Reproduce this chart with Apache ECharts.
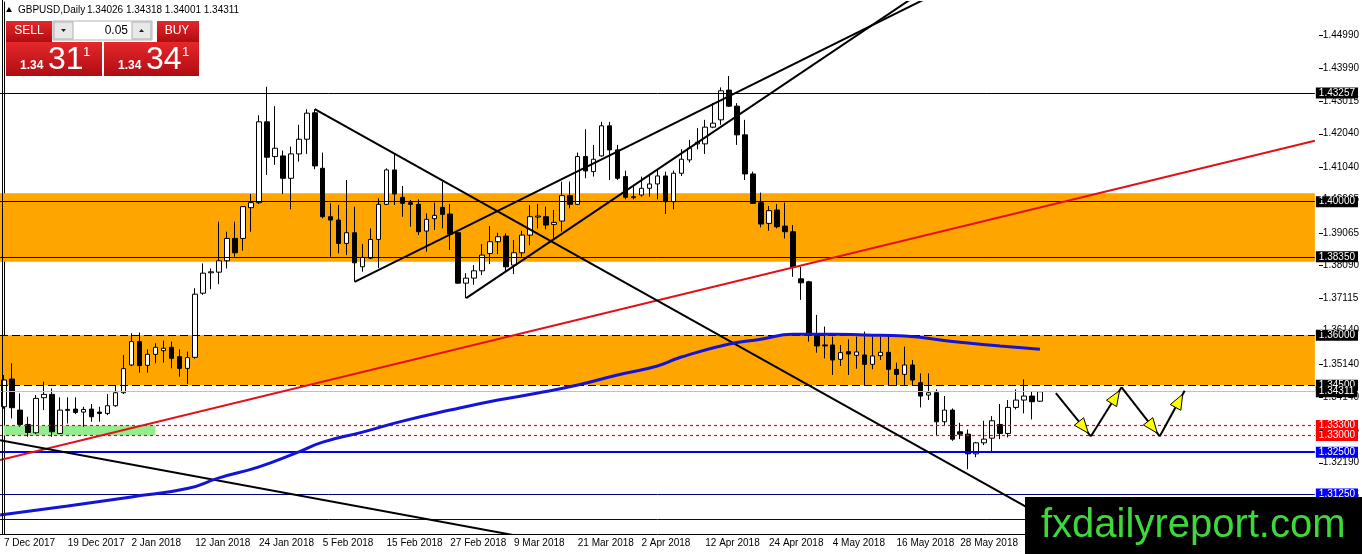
<!DOCTYPE html>
<html>
<head>
<meta charset="utf-8">
<script src="https://cdn.jsdelivr.net/npm/echarts@6/dist/echarts.min.js"></script>
<style>
html, body { margin: 0; padding: 0; background: #fff; }
#chart { width: 1362px; height: 554px; }
</style>
</head>
<body>
<div id="chart"></div>
<script>
// GBPUSD daily, one value per bar (7 Dec 2017 .. 11 Jun 2018)
var openArr = [
    1.3386, 1.3469, 1.3376, 1.3333, 1.3308, 1.3413, 1.3423, 1.3306, 1.3375, 1.3379,
    1.3370, 1.3379, 1.3370, 1.3366, 1.3389, 1.3428, 1.3511, 1.3581, 1.3510, 1.3543,
    1.3554, 1.3564, 1.3536, 1.3501, 1.3534, 1.3726, 1.3787, 1.3789, 1.3823, 1.3890,
    1.3890, 1.3982, 1.3997, 1.4239, 1.4135, 1.4137, 1.4070, 1.4143, 1.4187, 1.4266,
    1.4100, 1.3955, 1.3945, 1.3875, 1.3907, 1.3805, 1.3831, 1.3887, 1.3992, 1.4095,
    1.4013, 1.3997, 1.3992, 1.3912, 1.3949, 1.3983, 1.3963, 1.3907, 1.3756, 1.3771,
    1.3793, 1.3845, 1.3880, 1.3897, 1.3810, 1.3847, 1.3900, 1.3954, 1.3955, 1.3932,
    1.3942, 1.4018, 1.3992, 1.4135, 1.4090, 1.4137, 1.4227, 1.4155, 1.4075, 1.4012,
    1.4020, 1.4040, 1.4053, 1.4077, 1.4000, 1.4085, 1.4125, 1.4173, 1.4173, 1.4223,
    1.4245, 1.4334, 1.4286, 1.4200, 1.4083, 1.3997, 1.3935, 1.3975, 1.3927, 1.3910,
    1.3769, 1.3760, 1.3601, 1.3571, 1.3571, 1.3528, 1.3551, 1.3540, 1.3541, 1.3513,
    1.3539, 1.3549, 1.3498, 1.3483, 1.3511, 1.3458, 1.3421, 1.3428, 1.3341, 1.3376,
    1.3311, 1.3304, 1.3245, 1.3278, 1.3292, 1.3333, 1.3306, 1.3384, 1.3406, 1.3418,
    1.34026
];
var closeArr = [
    1.3466, 1.3383, 1.3333, 1.3309, 1.3411, 1.3423, 1.3311, 1.3376, 1.3378, 1.3369,
    1.3378, 1.3356, 1.3366, 1.3389, 1.3428, 1.3500, 1.3581, 1.3509, 1.3543, 1.3564,
    1.3561, 1.3531, 1.3501, 1.3533, 1.3723, 1.3786, 1.3790, 1.3823, 1.3890, 1.3847,
    1.3985, 1.3997, 1.4239, 1.4133, 1.4160, 1.4070, 1.4143, 1.4187, 1.4265, 1.4107,
    1.3955, 1.3945, 1.3875, 1.3907, 1.3817, 1.3833, 1.3887, 1.3992, 1.4095, 1.4023,
    1.3995, 1.3992, 1.3910, 1.3947, 1.3959, 1.3962, 1.3903, 1.3756, 1.3771, 1.3793,
    1.3840, 1.3880, 1.3895, 1.3805, 1.3847, 1.3900, 1.3955, 1.3957, 1.3930, 1.3938,
    1.4018, 1.3992, 1.4135, 1.4092, 1.4127, 1.4227, 1.4155, 1.4070, 1.4013, 1.4015,
    1.4040, 1.4053, 1.4077, 1.4000, 1.4085, 1.4127, 1.4160, 1.4178, 1.4223, 1.4235,
    1.4332, 1.4286, 1.4200, 1.4083, 1.3995, 1.3933, 1.3973, 1.3925, 1.3910, 1.3804,
    1.3757, 1.3606, 1.3568, 1.3568, 1.3526, 1.3548, 1.3544, 1.3550, 1.3513, 1.3538,
    1.3549, 1.3498, 1.3483, 1.3511, 1.3466, 1.3418, 1.3428, 1.3341, 1.3376, 1.3289,
    1.3304, 1.3245, 1.3278, 1.3289, 1.3344, 1.3306, 1.3384, 1.3406, 1.3418, 1.3401,
    1.34311
];
var lowArr = [
    1.3380, 1.3351, 1.3326, 1.3296, 1.3304, 1.3376, 1.3296, 1.3304, 1.3336, 1.3364,
    1.3326, 1.3341, 1.3341, 1.3361, 1.3386, 1.3424, 1.3508, 1.3488, 1.3488, 1.3516,
    1.3518, 1.3501, 1.3476, 1.3454, 1.3530, 1.3721, 1.3738, 1.3753, 1.3800, 1.3835,
    1.3853, 1.3910, 1.3993, 1.4080, 1.4110, 1.4023, 1.3977, 1.4120, 1.4143, 1.4097,
    1.3950, 1.3835, 1.3845, 1.3840, 1.3760, 1.3790, 1.3828, 1.3801, 1.3990, 1.3990,
    1.3955, 1.3925, 1.3900, 1.3850, 1.3915, 1.3920, 1.3855, 1.3754, 1.3711, 1.3751,
    1.3780, 1.3813, 1.3843, 1.3790, 1.3783, 1.3835, 1.3870, 1.3920, 1.3917, 1.3885,
    1.3910, 1.3980, 1.3990, 1.4070, 1.4075, 1.4135, 1.4065, 1.4065, 1.4007, 1.4007,
    1.4015, 1.4015, 1.4007, 1.3963, 1.3977, 1.4077, 1.4117, 1.4157, 1.4143, 1.4220,
    1.4230, 1.4284, 1.4170, 1.4065, 1.3993, 1.3923, 1.3913, 1.3920, 1.3890, 1.3775,
    1.3706, 1.3581, 1.3548, 1.3531, 1.3481, 1.3508, 1.3481, 1.3500, 1.3448, 1.3498,
    1.3526, 1.3448, 1.3448, 1.3448, 1.3448, 1.3384, 1.3406, 1.3298, 1.3331, 1.3284,
    1.3289, 1.3199, 1.3235, 1.3271, 1.3248, 1.3289, 1.3294, 1.3378, 1.3366, 1.3348,
    1.34001
];
var highArr = [
    1.3481, 1.3516, 1.3426, 1.3356, 1.3421, 1.3461, 1.3441, 1.3414, 1.3414, 1.3414,
    1.3386, 1.3394, 1.3386, 1.3424, 1.3451, 1.3541, 1.3606, 1.3608, 1.3558, 1.3576,
    1.3584, 1.3581, 1.3558, 1.3551, 1.3741, 1.3815, 1.3800, 1.3940, 1.3910, 1.3940,
    1.3987, 1.4023, 1.4259, 1.4344, 1.4286, 1.4153, 1.4165, 1.4230, 1.4277, 1.4277,
    1.4147, 1.3995, 1.3990, 1.4065, 1.3985, 1.3873, 1.3920, 1.4010, 1.4100, 1.4145,
    1.4047, 1.4005, 1.4007, 1.3965, 1.3997, 1.4060, 1.3993, 1.3907, 1.3786, 1.3810,
    1.3873, 1.3927, 1.3907, 1.3905, 1.3885, 1.3913, 1.3990, 1.3993, 1.3985, 1.3975,
    1.4060, 1.4060, 1.4147, 1.4217, 1.4170, 1.4239, 1.4239, 1.4170, 1.4093, 1.4047,
    1.4075, 1.4080, 1.4095, 1.4090, 1.4093, 1.4157, 1.4185, 1.4220, 1.4245, 1.4295,
    1.4342, 1.4376, 1.4295, 1.4245, 1.4090, 1.4027, 1.3987, 1.3993, 1.3997, 1.3930,
    1.3805, 1.3763, 1.3661, 1.3626, 1.3596, 1.3571, 1.3588, 1.3596, 1.3611, 1.3596,
    1.3596, 1.3596, 1.3518, 1.3566, 1.3526, 1.3486, 1.3486, 1.3438, 1.3418, 1.3381,
    1.3338, 1.3318, 1.3281, 1.3344, 1.3358, 1.3394, 1.3406, 1.3438, 1.3468, 1.3431,
    1.34318
];

// x axis labels, one every 8 bars
var dateLabels = ['7 Dec 2017', '19 Dec 2017', '2 Jan 2018', '12 Jan 2018', '24 Jan 2018',
    '5 Feb 2018', '15 Feb 2018', '27 Feb 2018', '9 Mar 2018', '21 Mar 2018', '2 Apr 2018',
    '12 Apr 2018', '24 Apr 2018', '4 May 2018', '16 May 2018', '28 May 2018'];
var priceTicks = [1.44990, 1.43990, 1.43015, 1.42040, 1.41040, 1.40065, 1.39065, 1.38090,
    1.37115, 1.36140, 1.35140, 1.34140, 1.33165, 1.32190, 1.31215];

// moving average, read at points along the curve [bar, price]
var maPoints = [[-0.5, 1.3062], [8, 1.3089], [16, 1.3116], [23, 1.3141], [27, 1.3173], [32, 1.3206],
    [37, 1.3251], [40, 1.3280], [45, 1.3310], [50, 1.3343], [56, 1.3376], [62, 1.3406],
    [67, 1.3427], [72, 1.3451], [77, 1.3481], [82, 1.3508], [85, 1.3535], [91, 1.3574],
    [95, 1.3588], [99, 1.3603], [104, 1.3603], [108, 1.3601], [113, 1.3598], [119, 1.3581],
    [125, 1.3568], [130, 1.3558]];

// drawn objects [bar, price]
var redTrend = [[-0.5, 1.32262], [164.5, 1.41825]];
var blackTrends = [
    [[-0.5, 1.32855], [70, 1.2975]],
    [[39, 1.4277], [140, 1.2930]],
    [[44, 1.3760], [120, 1.4659]],
    [[58, 1.3711], [120, 1.4706]]
];
var zigzag = [[132.0, 1.34271], [136.4, 1.32975], [140.25, 1.34442], [145.04, 1.32975], [148.16, 1.34340]];

var orangeZones = [[1.4025, 1.3820], [1.3600, 1.3450]];
var greenZone = [[0, 1.3330], [19, 1.3300]];

var blackLevels = [1.43257, 1.40000, 1.38350];
var dashedLevels = [1.36000, 1.34500];
var bidLevel = [1.34311];
var redLevels = [1.33300, 1.33000];
var blueLevels = [1.32500];
var navyLevels = [1.31250, 1.30500];

var header = ['GBPUSD,Daily', '1.34026 1.34318 1.34001 1.34311'];

var nBars = 165;
var font = 'Liberation Sans';

var categories = [];
for (var i = 0; i < nBars; i++) {
    categories.push(String(i));
}

var candleData = [];
for (var i = 0; i < openArr.length; i++) {
    candleData.push([openArr[i], closeArr[i], lowArr[i], highArr[i]]);
}

var segments = [];
for (var i = 0; i < zigzag.length - 1; i++) {
    segments.push([zigzag[i][0], zigzag[i][1], zigzag[i + 1][0], zigzag[i + 1][1]]);
}

function levelSeries(values, lineStyle, boxColor) {
    return {
        type: 'line',
        xAxisIndex: 1,
        data: [],
        silent: true,
        z: 3,
        markLine: {
            silent: true,
            symbol: 'none',
            precision: 5,
            animation: false,
            lineStyle: lineStyle,
            label: {
                show: true,
                position: 'end',
                distance: 1,
                formatter: '{b}',
                backgroundColor: boxColor,
                color: '#fff',
                fontFamily: font,
                fontSize: 10,
                padding: [1, 3, 0, 3]
            },
            data: values.map(function(v) { return { yAxis: v, name: v.toFixed(5) }; })
        }
    };
}

function trendSeries(points, color, width) {
    return {
        type: 'line',
        xAxisIndex: 1,
        data: points,
        symbol: 'none',
        silent: true,
        clip: true,
        z: 5,
        lineStyle: { color: color, width: width }
    };
}

function renderArrow(params, api) {
    var p1 = api.coord([api.value(0), api.value(1)]);
    var p2 = api.coord([api.value(2), api.value(3)]);
    var dx = p2[0] - p1[0], dy = p2[1] - p1[1];
    var len = Math.sqrt(dx * dx + dy * dy);
    var ux = dx / len, uy = dy / len;
    var tip = [p2[0] - ux * 4, p2[1] - uy * 4];
    var base = [tip[0] - ux * 15, tip[1] - uy * 15];
    var nx = -uy * 6, ny = ux * 6;
    return {
        type: 'group',
        children: [
            { type: 'line', shape: { x1: p1[0], y1: p1[1], x2: p2[0], y2: p2[1] },
              style: { stroke: '#000', lineWidth: 2 } },
            { type: 'polygon', shape: { points: [tip, [base[0] + nx, base[1] + ny], [base[0] - nx, base[1] - ny]] },
              style: { fill: '#ffff00', stroke: '#000', lineWidth: 1 } }
        ]
    };
}

var series = [];

// 배경 박스
series.push({
    type: 'line',
    xAxisIndex: 1,
    data: [],
    silent: true,
    z: 1,
    markArea: {
        silent: true,
        animation: false,
        precision: 5,
        itemStyle: { color: '#FFA500' },
        data: orangeZones.map(function(z) { return [{ yAxis: z[0] }, { yAxis: z[1] }]; })
    }
});
series.push({
    type: 'line',
    xAxisIndex: 1,
    data: [],
    silent: true,
    z: 1,
    markArea: {
        silent: true,
        animation: false,
        precision: 5,
        itemStyle: { color: '#90EE90' },
        data: [[{ coord: greenZone[0] }, { coord: greenZone[1] }]]
    }
});

series.push({
    type: 'candlestick',
    xAxisIndex: 0,
    data: candleData,
    barWidth: 5,
    z: 2,
    itemStyle: {
        color: '#ffffff',
        color0: '#000000',
        borderColor: '#000000',
        borderColor0: '#000000',
        borderWidth: 1
    }
});

series.push(levelSeries(blackLevels, { color: '#000', width: 1, type: 'solid' }, '#000'));
series.push(levelSeries(dashedLevels, { color: '#000', width: 1, type: [8, 4] }, '#000'));
series.push(levelSeries(bidLevel, { color: '#c0c0c0', width: 1, type: 'solid' }, '#000'));
series.push(levelSeries(redLevels, { color: '#ff0000', width: 1.2, type: [3, 3] }, '#ff0000'));
series.push(levelSeries(blueLevels, { color: '#0000ee', width: 2, type: 'solid' }, '#0000ff'));
series.push(levelSeries(navyLevels, { color: '#000080', width: 1, type: 'solid' }, '#0000ff'));

series.push(trendSeries(redTrend, '#e3101a', 2));
for (var i = 0; i < blackTrends.length; i++) {
    series.push(trendSeries(blackTrends[i], '#000', 2));
}
series.push({
    type: 'line',
    xAxisIndex: 1,
    data: maPoints,
    symbol: 'none',
    smooth: true,
    silent: true,
    z: 5,
    lineStyle: { color: '#1414d8', width: 3 }
});
series.push({
    type: 'custom',
    xAxisIndex: 1,
    data: segments,
    silent: true,
    z: 6,
    renderItem: renderArrow
});

var redFill = {
    type: 'linear', x: 0, y: 0, x2: 0, y2: 1,
    colorStops: [{ offset: 0, color: '#e4282b' }, { offset: 1, color: '#b00c12' }]
};

var graphics = [
    // chart frame left edge
    { type: 'line', shape: { x1: 2.5, y1: 0, x2: 2.5, y2: 534 }, style: { stroke: '#000', lineWidth: 1 }, z: 50 },
    // 상단 심볼 텍스트
    { type: 'polygon', shape: { points: [[6, 12], [12, 12], [9, 7]] }, style: { fill: '#000' }, z: 50 },
    { type: 'text', x: 18, y: 10, style: { text: header[0], font: '10px ' + font, fill: '#000', verticalAlign: 'middle' }, z: 50 },
    { type: 'text', x: 87, y: 10, style: { text: header[1], font: '10px ' + font, fill: '#000', verticalAlign: 'middle' }, z: 50 },

    // one click trading panel
    { type: 'rect', shape: { x: 6, y: 21, width: 46, height: 21 }, style: { fill: redFill }, z: 50 },
    { type: 'text', x: 29, y: 31, style: { text: 'SELL', font: '12px ' + font, fill: '#fff', align: 'center', verticalAlign: 'middle' }, z: 51 },
    { type: 'rect', shape: { x: 53, y: 21, width: 99, height: 19 }, style: { fill: '#fff', stroke: '#b4b4b4', lineWidth: 1 }, z: 50 },
    { type: 'rect', shape: { x: 54, y: 22, width: 19, height: 17 }, style: { fill: '#e8e8e8', stroke: '#b0b0b0', lineWidth: 1 }, z: 51 },
    { type: 'polygon', shape: { points: [[61, 29], [66, 29], [63.5, 32]] }, style: { fill: '#222' }, z: 52 },
    { type: 'rect', shape: { x: 132, y: 22, width: 19, height: 17 }, style: { fill: '#e8e8e8', stroke: '#b0b0b0', lineWidth: 1 }, z: 51 },
    { type: 'polygon', shape: { points: [[139, 32], [144, 32], [141.5, 29]] }, style: { fill: '#222' }, z: 52 },
    { type: 'text', x: 128, y: 31, style: { text: '0.05', font: '12px ' + font, fill: '#000', align: 'right', verticalAlign: 'middle' }, z: 51 },
    { type: 'rect', shape: { x: 157, y: 21, width: 42, height: 21 }, style: { fill: redFill }, z: 50 },
    { type: 'text', x: 177, y: 31, style: { text: 'BUY', font: '12px ' + font, fill: '#fff', align: 'center', verticalAlign: 'middle' }, z: 51 },

    { type: 'rect', shape: { x: 6, y: 42, width: 96, height: 34 }, style: { fill: redFill }, z: 50 },
    { type: 'text', x: 20, y: 66, style: { text: '1.34', font: 'bold 12px ' + font, fill: '#fff', verticalAlign: 'middle' }, z: 51 },
    { type: 'text', x: 48, y: 60, style: { text: '31', font: '32px ' + font, fill: '#fff', verticalAlign: 'middle' }, z: 51 },
    { type: 'text', x: 83, y: 52, style: { text: '1', font: '13px ' + font, fill: '#fff', verticalAlign: 'middle' }, z: 51 },
    { type: 'rect', shape: { x: 104, y: 42, width: 95, height: 34 }, style: { fill: redFill }, z: 50 },
    { type: 'text', x: 118, y: 66, style: { text: '1.34', font: 'bold 12px ' + font, fill: '#fff', verticalAlign: 'middle' }, z: 51 },
    { type: 'text', x: 146, y: 60, style: { text: '34', font: '32px ' + font, fill: '#fff', verticalAlign: 'middle' }, z: 51 },
    { type: 'text', x: 182, y: 52, style: { text: '1', font: '13px ' + font, fill: '#fff', verticalAlign: 'middle' }, z: 51 },

    // watermark
    { type: 'rect', shape: { x: 1025, y: 497, width: 337, height: 57 }, style: { fill: '#000' }, z: 100 },
    { type: 'text', x: 1041, y: 526, style: { text: 'fxdailyreport.com', font: '40px ' + font, fill: '#3fd83a', verticalAlign: 'middle' }, z: 101 }
];

var chart = echarts.init(document.getElementById('chart'));

var option = {
    animation: false,
    backgroundColor: '#fff',
    grid: { left: -1, right: 43, top: 2, bottom: 20 },
    xAxis: [
        {
            type: 'category',
            data: categories,
            boundaryGap: true,
            axisLine: { lineStyle: { color: '#000', width: 1 } },
            axisTick: { alignWithLabel: true, interval: 7, length: 4, lineStyle: { color: '#000' } },
            axisLabel: {
                interval: 7,
                align: 'left',
                margin: 4,
                color: '#000',
                fontFamily: font,
                fontSize: 10,
                formatter: function(v, idx) { return dateLabels[idx / 8] || ''; }
            },
            splitLine: { show: false }
        },
        {
            type: 'value',
            min: -0.5,
            max: nBars - 0.5,
            show: false
        }
    ],
    yAxis: {
        type: 'value',
        position: 'right',
        min: 1.3005,
        max: 1.45978,
        axisLine: { show: true, lineStyle: { color: '#000', width: 1 } },
        axisTick: { show: false },
        axisLabel: {
            customValues: priceTicks,
            margin: 8,
            color: '#000',
            fontFamily: font,
            fontSize: 10,
            formatter: function(v) { return v.toFixed(5); }
        },
        splitLine: { show: false }
    },
    series: series,
    graphic: graphics
};

chart.setOption(option);

// 가격 눈금 (axis 오른쪽 짧은 선)
var tickMarks = priceTicks.map(function(v) {
    var y = Math.round(chart.convertToPixel({ yAxisIndex: 0 }, v)) + 0.5;
    return { type: 'line', shape: { x1: 1319, y1: y, x2: 1323, y2: y }, style: { stroke: '#000', lineWidth: 1 }, z: 40 };
});
chart.setOption({ graphic: graphics.concat(tickMarks) });

window.addEventListener('resize', function() {
    chart.resize();
});
</script>
</body>
</html>
